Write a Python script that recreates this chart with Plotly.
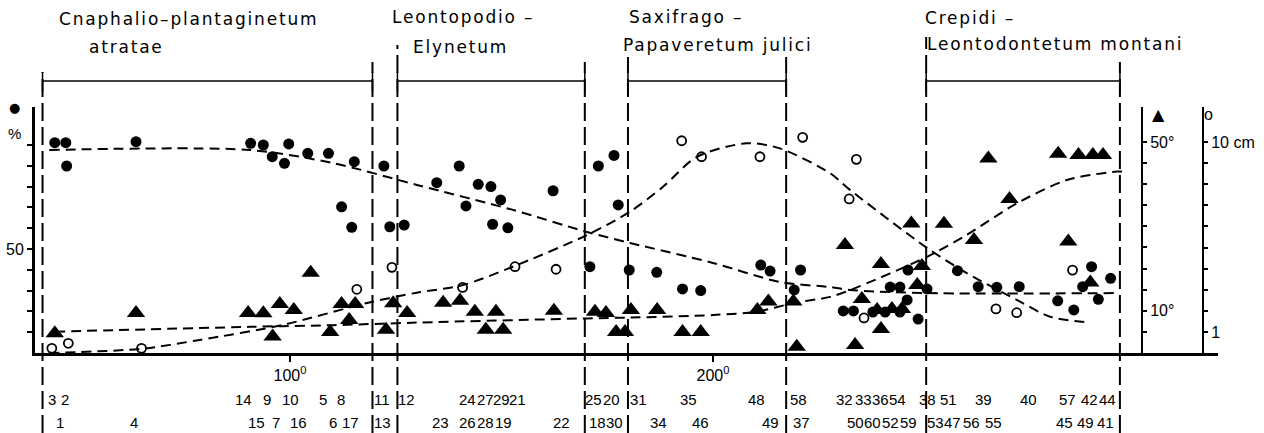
import plotly.graph_objects as go

# ---------------- data ----------------
# filled dots: cover in %, left axis
dot_x = [44.4, 47.0, 47.2, 63.6, 90.7, 93.7, 95.8, 98.7, 99.7, 104.2, 109.1, 115.2, 112.2, 114.6,
         122.2, 123.6, 127.0, 134.7, 140.0, 141.6, 144.5, 147.5, 149.8, 147.9, 151.5, 162.2,
         170.9, 172.9, 176.6, 177.6, 180.2, 186.7, 192.8, 197.1, 211.3, 213.5, 220.7, 219.2,
         230.8, 233.2, 237.8, 240.7, 244.2, 245.9, 248.5, 241.9, 244.2, 246.1, 250.6,
         257.8, 262.7, 267.1, 272.4, 281.5, 285.3, 287.4, 289.5, 291.1, 294.0]
dot_pct = [101.1, 101.1, 89.9, 101.6, 100.8, 100.0, 94.4, 91.2, 100.5, 96.0, 96.0, 92.0, 70.3, 60.4,
           89.9, 60.7, 61.5, 81.9, 89.9, 70.7, 81.1, 80.0, 73.6, 61.9, 60.2, 78.0,
           41.5, 89.9, 95.0, 71.2, 39.9, 38.8, 30.8, 30.0, 42.3, 39.4, 39.9, 30.3,
           20.2, 20.2, 19.7, 19.7, 19.7, 25.5, 16.3, 31.7, 31.7, 39.9, 30.8,
           39.6, 31.9, 31.6, 31.9, 25.1, 20.7, 31.9, 41.5, 25.8, 35.9]

# filled triangles: slope in degrees, first right axis
tri_x = [44.4, 63.6, 90.1, 93.7, 97.6, 95.9, 100.9, 104.9, 109.5, 112.2, 115.4, 114.0, 122.7, 124.4,
         127.7, 136.2, 140.2, 143.7, 148.7, 146.3, 150.4, 162.4, 172.1, 174.7, 177.1, 179.2,
         180.6, 186.8, 192.8, 197.1, 210.5, 213.1, 219.0, 219.8,
         231.2, 246.9, 254.6, 265.1, 270.1, 261.7, 281.6, 286.4, 289.8, 292.2, 284.0,
         239.7, 248.3, 249.4, 235.2, 238.8, 242.3, 244.7, 239.7, 233.6, 289.2]
tri_slope = [4.7, 9.5, 9.5, 9.4, 11.6, 3.9, 10.2, 19.0, 5.0, 11.6, 11.6, 7.8, 5.5, 11.8,
             9.5, 11.9, 12.4, 9.8, 9.8, 5.5, 5.5, 10.0, 9.8, 9.5, 5.0, 5.0,
             10.2, 10.2, 5.0, 5.0, 10.2, 12.2, 12.2, 1.5,
             25.6, 30.7, 30.6, 46.1, 36.5, 26.8, 47.2, 46.9, 46.9, 46.9, 26.4,
             21.1, 16.1, 20.6, 12.8, 10.2, 10.4, 10.4, 5.7, 1.9, 16.7]

# open circles: depth in cm, second right axis
circ_x = [43.7, 47.6, 64.9, 115.8, 124.1, 140.8, 153.2, 162.9, 192.6, 197.3, 211.1, 221.2,
          233.9, 232.2, 235.7, 285.0, 266.9, 271.8]
circ_cm = [0.22, 0.46, 0.22, 3.02, 4.06, 3.11, 4.09, 3.97, 10.06, 9.30, 9.30, 10.22,
           9.18, 7.30, 1.66, 3.93, 2.09, 1.91]

# dashed trend curves
trend_pct_x = [43.1, 90.5, 110.2, 130.0, 152.7, 170.2, 180.4, 200.0, 215.9, 227.7, 232.4, 250.6, 295.7]
trend_pct_y = [97.6, 97.6, 91.3, 80.8, 68.8, 58.2, 52.9, 43.3, 34.1, 31.7, 30.3, 28.8, 28.8]

trend_slope_x = [44.4, 90.5, 110.2, 130.0, 170.2, 180.4, 200.0, 210.4, 218.9, 227.7, 232.4,
                 250.6, 260.0, 271.9, 283.7, 295.5, 297.5]
trend_slope_y = [5.05, 6.2, 6.6, 7.2, 8.2, 8.4, 9.0, 9.8, 11.8, 13.3, 14.9,
                 22.8, 28.0, 35.5, 41.0, 43.0, 43.0]

trend_cm_x = [43.1, 64.9, 78.7, 98.3, 118.2, 130.0, 140.9, 152.7, 170.2, 180.4, 188.2, 196.2,
              208.0, 215.8, 227.7, 232.4, 250.6, 260.0, 271.9, 279.7, 289.2]
trend_cm_y = [0.0, 0.2, 0.62, 1.33, 2.37, 2.86, 3.22, 4.09, 5.59, 6.70, 7.88, 9.30,
              9.94, 9.70, 8.52, 7.73, 4.98, 3.79, 2.51, 1.72, 1.44]

# association boundaries (x, degrees) and names
boundaries_x = [41.5, 119.5, 125.4, 169.7, 179.9, 217.3, 250.4, 296.2]
association_spans = [(41.5, 119.5), (125.4, 169.7), (179.9, 217.3), (250.4, 296.2)]
association_line1 = ["Cnaphalio–plantaginetum", "Leontopodio –", "Saxifrago –", "Crepidi –"]
association_line2 = ["atratae", "Elynetum", "Papaveretum julici", "Leontodontetum montani"]

# site (relevé) numbers under the axis
site_row1 = ["3", "2", "14", "9", "10", "5", "8", "11", "12", "24", "27", "29", "21", "25", "20",
             "31", "35", "48", "58", "32", "33", "36", "54", "38", "51", "39", "40", "57", "42", "44"]
site_row1_x = [43.7, 46.8, 88.9, 94.6, 100.2, 107.8, 112.1, 121.8, 127.5, 142.0, 146.3, 150.1, 153.9,
               171.7, 176.1, 182.4, 194.1, 210.2, 220.1, 231.2, 235.7, 239.5, 243.7, 250.8, 255.7,
               264.0, 274.7, 283.9, 288.9, 293.3]
site_row2 = ["1", "4", "15", "7", "16", "6", "17", "13", "23", "26", "28", "19", "22", "18", "30",
             "34", "46", "49", "37", "50", "60", "52", "59", "53", "47", "56", "55", "45", "49", "41"]
site_row2_x = [45.6, 63.1, 92.2, 96.7, 102.1, 110.2, 114.2, 121.8, 135.7, 142.0, 146.3, 150.4, 164.1,
               172.7, 176.6, 187.2, 197.1, 213.7, 221.0, 233.7, 237.8, 242.0, 246.3, 252.7, 256.7,
               261.0, 266.4, 283.0, 288.0, 292.8]

x_tick_vals = [100, 200]
x_tick_text = ["100<sup>0</sup>", "200<sup>0</sup>"]

# ---------------- layout geometry ----------------
W, H = 1264, 433
L, R, T, B = 35, 46, 107, 80
PW, PH = W - L - R, H - T - B


def xp(px):
    return (px - L) / PW


def yp(py):
    return (H - B - py) / PH


FONT = "Liberation Sans, Arial, sans-serif"
HFONT = "DejaVu Sans, sans-serif"

fig = go.Figure()

dash_curve = "10px,6px"
fig.add_trace(go.Scatter(x=trend_pct_x, y=trend_pct_y, mode="lines", yaxis="y",
                         line=dict(color="black", width=2, dash=dash_curve, shape="spline", smoothing=0.8),
                         hoverinfo="skip"))
fig.add_trace(go.Scatter(x=trend_slope_x, y=trend_slope_y, mode="lines", yaxis="y2",
                         line=dict(color="black", width=2, dash=dash_curve, shape="spline", smoothing=0.8),
                         hoverinfo="skip"))
fig.add_trace(go.Scatter(x=trend_cm_x, y=trend_cm_y, mode="lines", yaxis="y3",
                         line=dict(color="black", width=2, dash=dash_curve, shape="spline", smoothing=0.8),
                         hoverinfo="skip"))

fig.add_trace(go.Scatter(x=dot_x, y=dot_pct, mode="markers", yaxis="y", cliponaxis=False,
                         marker=dict(symbol="circle", size=11, color="black")))
fig.add_trace(go.Scatter(x=tri_x, y=tri_slope, mode="markers", yaxis="y2", cliponaxis=False,
                         marker=dict(symbol="triangle-up", size=16, color="black")))
fig.add_trace(go.Scatter(x=circ_x, y=circ_cm, mode="markers", yaxis="y3", cliponaxis=False,
                         marker=dict(symbol="circle-open", size=9, color="black",
                                     line=dict(color="black", width=1.8))))

shapes = []
tops_px = [72, 62, 45, 62, 57, 57, 37, 62]
for bx, tp in zip(boundaries_x, tops_px):
    shapes.append(dict(type="line", xref="x", yref="paper", x0=bx, x1=bx,
                       y0=yp(H), y1=yp(tp),
                       line=dict(color="black", width=2, dash="18px,6px")))
for (a, b) in association_spans:
    shapes.append(dict(type="line", xref="x", yref="paper", x0=a, x1=b, y0=yp(81), y1=yp(81),
                       line=dict(color="black", width=1.5)))
    for e in (a, b):
        shapes.append(dict(type="line", xref="x", yref="paper", x0=e, x1=e, y0=yp(92), y1=yp(72),
                           line=dict(color="black", width=1.5)))

ann = []
h1_pos = [(57, 19), (390, 17), (627, 17), (923, 18)]
h2_pos = [(87, 47), (411, 47), (621, 45), (925, 44)]
SP = '<span style="letter-spacing:1.8px">{}</span>'
for txt, (px_, py_) in zip(association_line1, h1_pos):
    ann.append(dict(text=SP.format(txt), xref="paper", yref="paper", x=xp(px_), y=yp(py_), xanchor="left",
                    yanchor="middle", showarrow=False, font=dict(family=HFONT, size=17, color="black")))
for txt, (px_, py_) in zip(association_line2, h2_pos):
    ann.append(dict(text=SP.format(txt), xref="paper", yref="paper", x=xp(px_), y=yp(py_), xanchor="left",
                    yanchor="middle", showarrow=False, font=dict(family=HFONT, size=17, color="black")))

for s, sx in zip(site_row1, site_row1_x):
    ann.append(dict(text=s, xref="x", yref="paper", x=sx, y=yp(399), xanchor="center",
                    yanchor="middle", showarrow=False, font=dict(family=FONT, size=15, color="black")))
for s, sx in zip(site_row2, site_row2_x):
    ann.append(dict(text=s, xref="x", yref="paper", x=sx, y=yp(422), xanchor="center",
                    yanchor="middle", showarrow=False, font=dict(family=FONT, size=15, color="black")))

# axis symbols
sym = [("●", 14, 107, "DejaVu Sans", 13), ("%", 15, 133, FONT, 15),
       ("▲", 1158, 115, "DejaVu Sans", 16), ("o", 1208, 114, FONT, 16)]
for t, sx, sy, fam, fs in sym:
    ann.append(dict(text=t, xref="paper", yref="paper", x=xp(sx), y=yp(sy), xanchor="center",
                    yanchor="middle", showarrow=False, font=dict(family=fam, size=fs, color="black")))

fig.update_layout(
    width=W, height=H,
    margin=dict(l=L, r=R, t=T, b=B, pad=0, autoexpand=False),
    paper_bgcolor="white", plot_bgcolor="white",
    showlegend=False,
    shapes=shapes, annotations=ann,
    font=dict(family=FONT, size=16, color="black"),
    xaxis=dict(range=[39.72, 319.39], showline=True, linewidth=3, linecolor="black", automargin=False,
               showgrid=False, zeroline=False, ticks="outside", ticklen=6, tickwidth=2,
               tickcolor="black", tickvals=x_tick_vals, ticktext=x_tick_text,
               tickfont=dict(family=FONT, size=16, color="black")),
    yaxis=dict(range=[0, 118.27], showline=True, linewidth=3, linecolor="black", automargin=False,
               showgrid=False, zeroline=False, ticks="outside", ticklen=5, tickwidth=1.5,
               tickcolor="black", tickvals=[10, 20, 30, 40, 50, 60, 70, 80, 90, 100],
               ticktext=["", "", "", "", "50", "", "", "", "", ""],
               tickfont=dict(family=FONT, size=16, color="black")),
    yaxis2=dict(range=[0, 58.29], overlaying="y", anchor="free", position=xp(1142), side="right",
                automargin=False,
                showline=True, linewidth=2, linecolor="black", showgrid=False, zeroline=False,
                ticks="outside", ticklen=4, tickwidth=1.5, tickcolor="black",
                tickvals=[5, 10, 15, 20, 25, 30, 35, 40, 45, 50],
                ticktext=["", "10°", "", "", "", "", "", "", "", "50°"],
                tickfont=dict(family=FONT, size=16, color="black")),
    yaxis3=dict(range=[0, 11.659], overlaying="y", anchor="free", position=xp(1203), side="right",
                automargin=False,
                showline=True, linewidth=2, linecolor="black", showgrid=False, zeroline=False,
                ticks="outside", ticklen=4, tickwidth=1.5, tickcolor="black",
                tickvals=[1, 2, 3, 4, 5, 6, 7, 8, 9, 10],
                ticktext=["1", "", "", "", "", "", "", "", "", "10 cm"],
                tickfont=dict(family=FONT, size=16, color="black")),
)

fig.write_html("out.html", config={"displayModeBar": False},
               post_script="document.body.style.margin='0px';document.body.style.padding='0px';")
